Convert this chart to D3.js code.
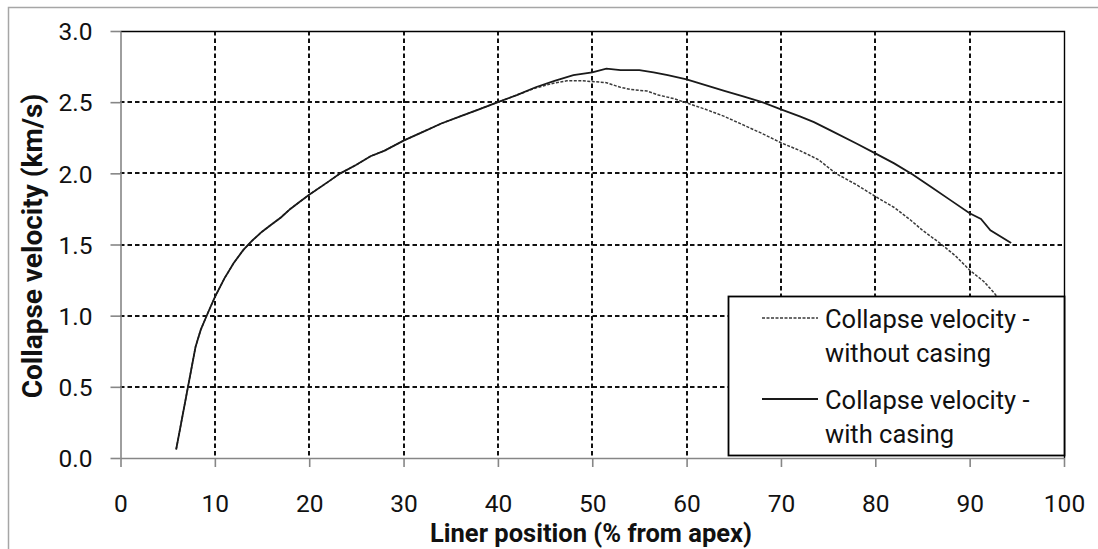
<!DOCTYPE html>
<html>
<head>
<meta charset="utf-8">
<script src="https://cdn.jsdelivr.net/npm/d3@7"></script>
<style>
  body { margin: 0; background: #fff; }
  svg text { font-family: Roboto, "Open Sans", sans-serif; fill: #111; }
</style>
</head>
<body>
<div id="chart"></div>
<script>
// liner position (% from apex) and collapse velocity (km/s)
const withCasingX = [5.9, 7.95, 8.5, 9.2, 10, 11, 12, 13, 14, 15, 16, 17, 18, 19, 20, 22, 23.3, 25, 26.5, 28, 30, 32, 34, 36, 38, 40, 42, 44, 46, 48, 50, 51.5, 53, 55, 56.5, 58, 60, 62, 64, 66, 68, 70, 72, 73.5, 75.3, 78, 80, 82, 84, 86, 88, 90, 91.2, 92.2, 94.4];
const withCasingY = [0.06, 0.78, 0.9, 1.01, 1.13, 1.26, 1.37, 1.46, 1.53, 1.59, 1.64, 1.69, 1.75, 1.8, 1.85, 1.94, 2.0, 2.06, 2.12, 2.16, 2.23, 2.29, 2.35, 2.4, 2.45, 2.5, 2.55, 2.605, 2.65, 2.69, 2.71, 2.735, 2.725, 2.725, 2.71, 2.69, 2.66, 2.62, 2.58, 2.54, 2.5, 2.45, 2.4, 2.36, 2.3, 2.21, 2.14, 2.07, 1.99, 1.9, 1.81, 1.72, 1.68, 1.6, 1.51];

const withoutCasingX = [5.9, 7.95, 8.5, 9.2, 10, 11, 12, 13, 14, 15, 16, 17, 18, 19, 20, 22, 23.3, 25, 26.5, 28, 30, 32, 34, 36, 38, 40, 42, 44, 46, 47.3, 49, 50, 51.5, 52.9, 54, 55.8, 57, 58.7, 60, 62, 64, 66, 68, 70, 72, 74, 75.8, 78, 80, 82, 83.7, 85, 86.9, 88.5, 90, 91.5, 92.6, 94.4];
const withoutCasingY = [0.06, 0.78, 0.9, 1.01, 1.13, 1.26, 1.37, 1.46, 1.53, 1.59, 1.64, 1.69, 1.75, 1.8, 1.85, 1.94, 2.0, 2.06, 2.12, 2.16, 2.23, 2.29, 2.35, 2.4, 2.45, 2.5, 2.55, 2.6, 2.635, 2.65, 2.65, 2.645, 2.637, 2.606, 2.59, 2.578, 2.55, 2.524, 2.495, 2.45, 2.4, 2.34, 2.28, 2.215, 2.16, 2.095, 2.0, 1.92, 1.838, 1.76, 1.674, 1.6, 1.507, 1.42, 1.32, 1.24, 1.16, 1.0];

const xTicks = [0, 10, 20, 30, 40, 50, 60, 70, 80, 90, 100];
const yTicks = [0, 0.5, 1.0, 1.5, 2.0, 2.5, 3.0];

const legendLabels = [
	["Collapse velocity -", "without casing"],
	["Collapse velocity -", "with casing"]
];

const W = 1098, H = 549;
const margin = {top: 31, right: 34, bottom: 91, left: 120};
const width = W - margin.left - margin.right;
const height = H - margin.top - margin.bottom;

const svg = d3.select("#chart").append("svg")
	.attr("width", W)
	.attr("height", H);

// outer chart border
svg.append("rect")
	.attr("x", 8.5).attr("y", 7.5)
	.attr("width", W).attr("height", H)
	.attr("fill", "none")
	.attr("stroke", "#a6a6a6")
	.attr("stroke-width", 1.5);

const g = svg.append("g")
	.attr("transform", `translate(${margin.left}, ${margin.top})`);

const x = d3.scaleLinear().domain([0, 100]).range([0.5, width]);
const y = d3.scaleLinear().domain([0, 3]).range([height, 0]);

// dashed grid
g.append("g")
	.selectAll("line.vgrid")
	.data(xTicks.filter(d => d > 0 && d < 100))
	.join("line")
	.attr("class", "vgrid")
	.attr("x1", d => Math.round(x(d))).attr("x2", d => Math.round(x(d)))
	.attr("y1", 0).attr("y2", height)
	.attr("stroke", "#111")
	.attr("stroke-width", 2)
	.attr("stroke-dasharray", "4.5,3");

g.append("g")
	.selectAll("line.hgrid")
	.data(yTicks.filter(d => d > 0 && d < 3))
	.join("line")
	.attr("class", "hgrid")
	.attr("x1", 0).attr("x2", width)
	.attr("y1", d => Math.round(y(d))).attr("y2", d => Math.round(y(d)))
	.attr("stroke", "#111")
	.attr("stroke-width", 2)
	.attr("stroke-dasharray", "4.5,3");

// plot area top / right border
g.append("path")
	.attr("d", `M0.5,0.5H${width + 0.5}V${height}`)
	.attr("fill", "none")
	.attr("stroke", "#000")
	.attr("stroke-width", 1.4);

// axes
const xAxis = g.append("g")
	.attr("transform", `translate(0, ${height})`)
	.call(d3.axisBottom(x).tickValues(xTicks).tickSize(9).tickSizeOuter(0).tickFormat(d3.format("d")));

const yAxis = g.append("g")
	.attr("transform", "translate(0.5, 0)")
	.call(d3.axisLeft(y).tickValues(yTicks).tickSize(10).tickSizeOuter(0).tickFormat(d3.format(".1f")));

[xAxis, yAxis].forEach(a => {
	a.select(".domain").attr("stroke", "#868686").attr("stroke-width", 1.6);
	a.selectAll(".tick line").attr("stroke", "#868686").attr("stroke-width", 1.6);
	a.selectAll(".tick text")
		.attr("font-family", null)
		.style("font-size", "24.5px")
		.attr("fill", "#1a1a1a");
});
xAxis.selectAll(".tick text").attr("y", 37).attr("dy", "0.71em");
yAxis.selectAll(".tick text").attr("x", -28).attr("dy", "0.36em");

// series
const line = d3.line().x(d => x(d[0])).y(d => y(d[1]));
const withoutData = d3.zip(withoutCasingX, withoutCasingY);
const withData = d3.zip(withCasingX, withCasingY);

g.append("path")
	.datum(withoutData)
	.attr("d", line)
	.attr("fill", "none")
	.attr("stroke", "#3a3a3a")
	.attr("stroke-width", 1.5)
	.attr("stroke-dasharray", "3,1.5");

g.append("path")
	.datum(withData)
	.attr("d", line)
	.attr("fill", "none")
	.attr("stroke", "#1a1a1a")
	.attr("stroke-width", 1.8);

// legend
const legend = svg.append("g").attr("transform", "translate(728, 296)");
legend.append("rect")
	.attr("x", 0.5).attr("y", 0.5)
	.attr("width", 336).attr("height", 159)
	.attr("fill", "#fff")
	.attr("stroke", "#000")
	.attr("stroke-width", 1.8);

const item = legend.selectAll("g.item")
	.data(legendLabels)
	.join("g")
	.attr("class", "item")
	.attr("transform", (d, i) => `translate(0, ${22 + i * 81})`);

item.append("line")
	.attr("x1", 34).attr("x2", 90)
	.attr("y1", 0).attr("y2", 0)
	.attr("stroke", (d, i) => i === 0 ? "#3a3a3a" : "#1a1a1a")
	.attr("stroke-width", (d, i) => i === 0 ? 1.4 : 1.8)
	.attr("stroke-dasharray", (d, i) => i === 0 ? "3,1.5" : null);

item.append("text")
	.attr("x", 97)
	.attr("y", 10)
	.style("font-size", "25.5px")
	.selectAll("tspan")
	.data(d => d)
	.join("tspan")
	.attr("x", 97)
	.attr("dy", (d, i) => i === 0 ? 0 : 34)
	.text(d => d);

// axis titles
svg.append("text")
	.attr("x", 591)
	.attr("y", 542)
	.attr("text-anchor", "middle")
	.style("font-size", "25.5px")
	.style("font-weight", "bold")
	.text("Liner position (% from apex)");

svg.append("text")
	.attr("transform", "translate(42, 246) rotate(-90)")
	.attr("text-anchor", "middle")
	.style("font-size", "28px")
	.style("font-weight", "bold")
	.text("Collapse velocity (km/s)");
</script>
</body>
</html>
